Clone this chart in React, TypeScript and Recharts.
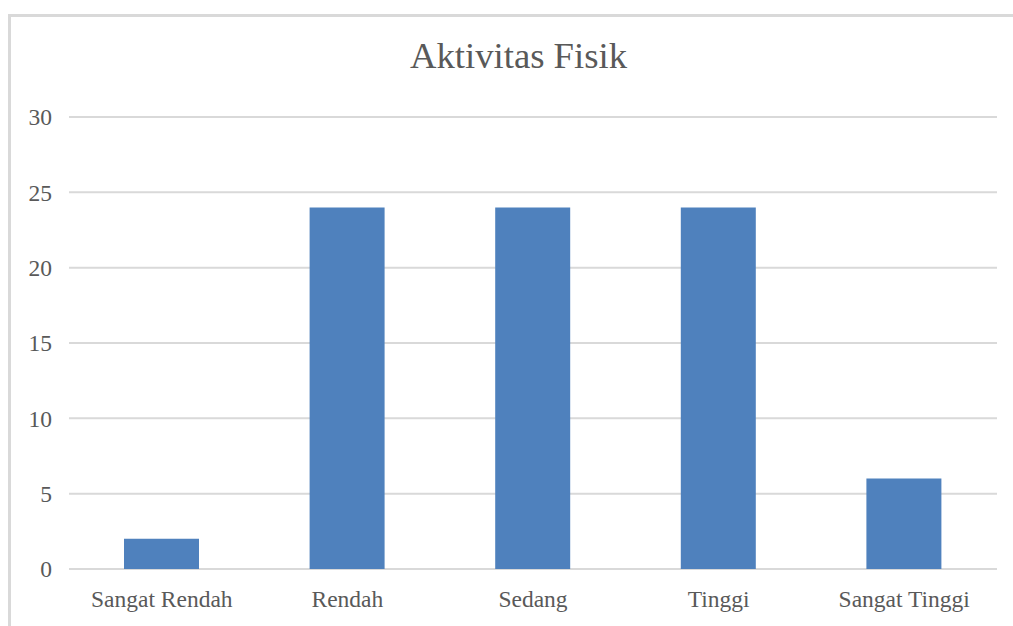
import * as React from 'react';
import { BarChart, Bar, XAxis, YAxis, CartesianGrid } from 'recharts';

const categories = ['Sangat Rendah', 'Rendah', 'Sedang', 'Tinggi', 'Sangat Tinggi'];
const values = [2, 24, 24, 24, 6];
const yTicks = [0, 5, 10, 15, 20, 25, 30];

const data = categories.map((name, i) => ({ name, value: values[i] }));

const FONT = '"Liberation Serif", "Times New Roman", serif';
const TEXT = '#595959';

export default function App() {
  return (
    <div style={{ position: 'absolute', left: 0, top: 0, width: 1013, height: 626, overflow: 'hidden', background: '#fff' }}>
      <div
        style={{
          position: 'absolute',
          left: 8,
          top: 14,
          width: 1040,
          height: 660,
          border: '3px solid #d9d9d9',
          boxSizing: 'border-box',
        }}
      />
      <div
        style={{
          position: 'absolute',
          left: 0,
          top: 36,
          width: 1037,
          textAlign: 'center',
          fontFamily: FONT,
          fontSize: 36.7,
          color: TEXT,
          lineHeight: '40px',
        }}
      >
        Aktivitas Fisik
      </div>
      <div style={{ position: 'absolute', left: 0, top: 0 }}>
        <BarChart
          width={1013}
          height={626}
          data={data}
          margin={{ top: 117, right: 16, bottom: 0, left: 0 }}
          barCategoryGap="30%"
        >
          <CartesianGrid vertical={false} stroke="#d9d9d9" strokeWidth={2} />
          <XAxis
            dataKey="name"
            axisLine={false}
            tickLine={false}
            tickSize={0}
            tickMargin={21}
            height={57}
            interval={0}
            tick={{ fill: TEXT, fontFamily: FONT, fontSize: 23.5 }}
          />
          <YAxis
            domain={[0, 30]}
            ticks={yTicks}
            axisLine={false}
            tickLine={false}
            tickSize={0}
            tickMargin={17}
            width={69}
            tick={{ fill: TEXT, fontFamily: FONT, fontSize: 23.5 }}
          />
          <Bar dataKey="value" fill="#4f81bd" barSize={75} isAnimationActive={false} />
        </BarChart>
      </div>
    </div>
  );
}
